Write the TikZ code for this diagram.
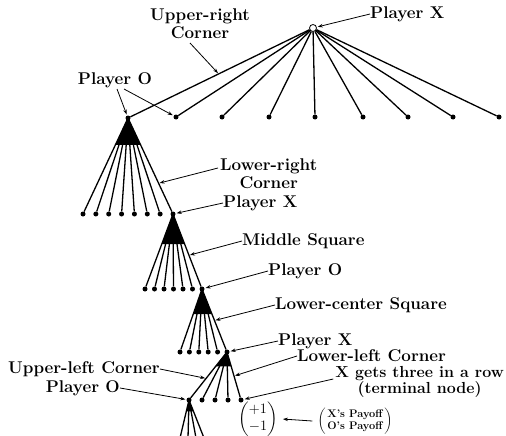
\documentclass[tikz,border=0pt]{standalone}
\usepackage{amsmath}
\usetikzlibrary{calc,arrows.meta}
\begin{document}
\begin{tikzpicture}[x=1pt,y=-1pt,
  edge/.style={line width=1.3pt},
  dot/.style={circle,fill=black,inner sep=0pt,minimum size=5pt},
  lbl/.style={font=\fontsize{17}{18}\selectfont\bfseries, inner sep=0pt, align=center},
  ptr/.style={line width=0.8pt,-{Stealth[length=5pt,width=3.5pt]}, shorten >=1pt},
]
\useasboundingbox (0,0) rectangle (506,436);

% ---------- level 0/1 ----------
\node[circle,draw,line width=0.8pt,inner sep=0pt,minimum size=7pt,fill=white] (root) at (313,28) {};
\node[dot] (n1) at (128,118) {};
\foreach \x [count=\i] in {176,222,269,315,363,408,453,499}
  \node[dot] (t\i) at (\x,117) {};
\draw[edge] (root) -- (n1);
\foreach \i in {1,...,8} \draw[edge] (root) -- (t\i);

% ---------- level 2 ----------
\node[dot] (n2) at (173,214) {};
\foreach \i in {0,...,6} \node[dot] (a\i) at ({83+\i*12.857},214) {};
\fill (n1.center) -- ($(n1.center)!0.28!(a0.center)$) -- ($(n1.center)!0.28!(n2.center)$) -- cycle;
\foreach \i in {0,...,6} \draw[edge] (n1.center) -- (a\i);
\draw[edge] (n1.center) -- (n2);

% ---------- level 3 ----------
\node[dot] (n3) at (202,289) {};
\foreach \i in {0,...,5} \node[dot] (b\i) at ({145+\i*9.5},289) {};
\fill (n2.center) -- ($(n2.center)!0.4!(b0.center)$) -- ($(n2.center)!0.4!(n3.center)$) -- cycle;
\foreach \i in {0,...,5} \draw[edge] (n2.center) -- (b\i);
\draw[edge] (n2.center) -- (n3);

% ---------- level 4 ----------
\node[dot] (n4) at (227,352) {};
\foreach \i in {0,...,4} \node[dot] (c\i) at ({180+\i*9.4},352) {};
\fill (n3.center) -- ($(n3.center)!0.4!(c0.center)$) -- ($(n3.center)!0.4!(n4.center)$) -- cycle;
\foreach \i in {0,...,4} \draw[edge] (n3.center) -- (c\i);
\draw[edge] (n3.center) -- (n4);

% ---------- level 5 ----------
\node[dot] (n5) at (189,400) {};
\foreach \x [count=\i] in {202,215,228,241} \node[dot] (d\i) at (\x,400) {};
\fill (n4.center) -- ($(n4.center)!0.3!(n5.center)$) -- ($(n4.center)!0.3!(d4.center)$) -- cycle;
\draw[edge] (n4.center) -- (n5);
\foreach \i in {1,...,4} \draw[edge] (n4.center) -- (d\i);

% ---------- level 6 (cut off) ----------
\foreach \x [count=\i] in {180,188,196,204} \coordinate (e\i) at (\x,438);
\fill (n5.center) -- ($(n5.center)!0.3!(e1)$) -- ($(n5.center)!0.3!(e4)$) -- cycle;
\foreach \i in {1,...,4} \draw[edge] (n5.center) -- (e\i);

% ---------- labels ----------
\node[lbl,anchor=west] (lX1) at (370,14) {Player X};
\draw[ptr] (lX1.west) -- (root);

\node[lbl] (lUR) at (200,24) {Upper-right\\Corner};
\coordinate (pUR) at ($(root)!0.51!(n1)$);
\coordinate (sUR) at (190,43);
\draw[ptr] (sUR) -- (pUR);

\node[lbl] (lO1) at (115,80) {Player O};
\coordinate (sO1a) at (117,89);
\coordinate (sO1b) at (124,89);
\draw[ptr] (sO1a) -- (n1);
\draw[ptr] (sO1b) -- (t1);

\node[lbl,anchor=west] (lLR) at (220,174) {Lower-right\\Corner};
\coordinate (pLR) at ($(n1.center)!0.68!(n2.center)$);
\coordinate (sLR) at (218,168);
\draw[ptr] (sLR) -- (pLR);

\node[lbl,anchor=west] (lX2) at (223,203) {Player X};
\draw[ptr] (lX2.west) -- (n2);

\node[lbl,anchor=west] (lMS) at (242,241) {Middle Square};
\coordinate (pMS) at ($(n2.center)!0.55!(n3.center)$);
\draw[ptr] (lMS.west) -- (pMS);

\node[lbl,anchor=west] (lO2) at (268,271) {Player O};
\draw[ptr] (lO2.west) -- (n3);

\node[lbl,anchor=west] (lLC) at (275,305) {Lower-center Square};
\coordinate (pLC) at ($(n3.center)!0.5!(n4.center)$);
\draw[ptr] (lLC.west) -- (pLC);

\node[lbl,anchor=west] (lX3) at (278,341) {Player X};
\draw[ptr] (lX3.west) -- (n4);

\node[lbl,anchor=west] (lLL) at (297,356) {Lower-left Corner};
\coordinate (pLL) at ($(n4.center)!0.5!(d4.center)$);
\draw[ptr] (lLL.west) -- (pLL);

\node[lbl,anchor=east,font=\fontsize{16}{16}\selectfont\bfseries] (lT) at (504,382)
  {X gets three in a row\\(terminal node)};
\coordinate (sT) at ($(lT.west)+(-2,-3)$);
\draw[ptr] (sT) -- (d4);

\node[lbl,anchor=west] (lUL) at (8,369) {Upper-left Corner};
\coordinate (pUL) at ($(n4.center)!0.55!(n5.center)$);
\draw[ptr] (lUL.east) -- (pUL);

\node[lbl,anchor=east] (lO3) at (120,388) {Player O};
\draw[ptr] (lO3.east) -- (n5);

% ---------- payoff ----------
\node[font=\fontsize{15}{17}\selectfont\bfseries, inner sep=0pt] (pay) at (258,419)
  {$\begin{pmatrix}+1\\-1\end{pmatrix}$};
\node[font=\fontsize{11}{12}\selectfont\bfseries, inner sep=0pt] (plab) at (355,421)
  {$\left(\vrule height 13pt depth 10pt width 0pt
   \begin{tabular}{@{\,}c@{\,}}X's Payoff\\O's Payoff\end{tabular}\right)$};
\draw[ptr] ($(plab.west)+(-5,0)$) -- ($(pay.east)+(4,0)$);
\end{tikzpicture}
\end{document}
